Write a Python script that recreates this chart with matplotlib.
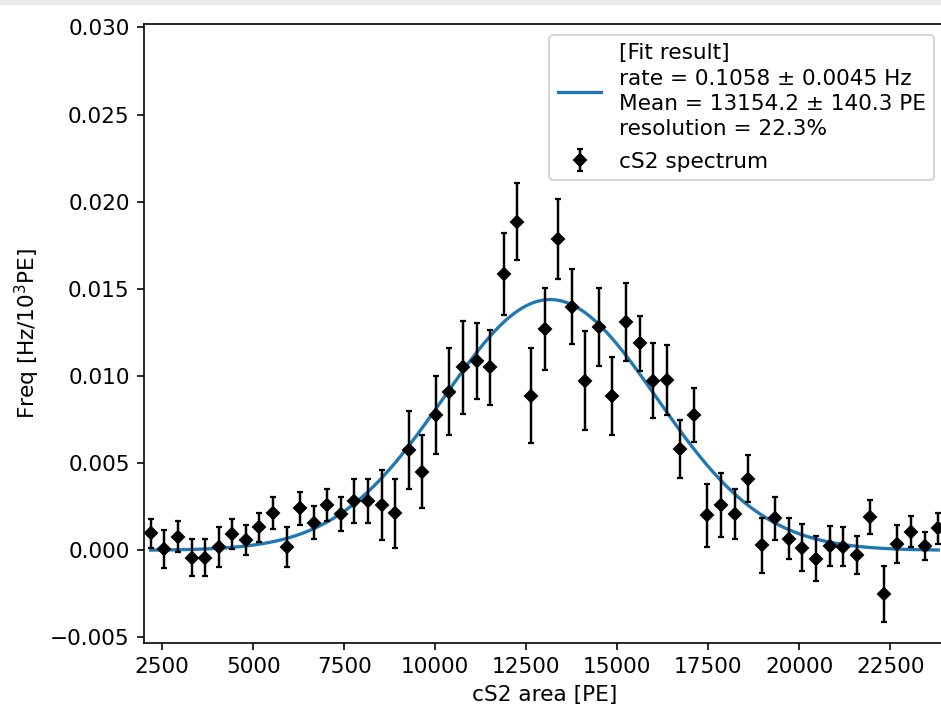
import numpy as np
import matplotlib
matplotlib.use("Agg")
import matplotlib.pyplot as plt
from matplotlib.patches import Rectangle

# ---- data ----
bin_edges = np.linspace(2000, 24000, 60)
bin_centers = 0.5 * (bin_edges[:-1] + bin_edges[1:])

freq = [0.00098, 0.00006, 0.00079, -0.00042, -0.00042, 0.00018, 0.00094, 0.00060,
        0.00132, 0.00213, 0.00021, 0.00241, 0.00159, 0.00260, 0.00207, 0.00283,
        0.00283, 0.00260, 0.00213, 0.00576, 0.00452, 0.00777, 0.00911, 0.01050,
        0.01089, 0.01050, 0.01587, 0.01886, 0.00886, 0.01272, 0.01785, 0.01398,
        0.00974, 0.01284, 0.00888, 0.01312, 0.01188, 0.00974, 0.00978, 0.00580,
        0.00777, 0.00201, 0.00260, 0.00209, 0.00410, 0.00029, 0.00184, 0.00067,
        0.00016, -0.00048, 0.00025, 0.00021, -0.00026, 0.00190, -0.00252, 0.00037,
        0.00107, 0.00027, 0.00127]

freq_err = [0.00083, 0.00110, 0.00087, 0.00105, 0.00105, 0.00114, 0.00086, 0.00085,
            0.00085, 0.00093, 0.00114, 0.00093, 0.00094, 0.00091, 0.00098, 0.00127,
            0.00127, 0.00200, 0.00198, 0.00226, 0.00207, 0.00222, 0.00250, 0.00268,
            0.00218, 0.00217, 0.00236, 0.00220, 0.00273, 0.00235, 0.00230, 0.00216,
            0.00284, 0.00224, 0.00224, 0.00224, 0.00159, 0.00214, 0.00200, 0.00165,
            0.00157, 0.00180, 0.00184, 0.00145, 0.00135, 0.00157, 0.00123, 0.00117,
            0.00134, 0.00130, 0.00113, 0.00113, 0.00110, 0.00096, 0.00162, 0.00110,
            0.00090, 0.00081, 0.00090]

# fit result (from legend)
fit_rate = 0.1058
fit_rate_err = 0.0045
fit_mean = 13154.2
fit_mean_err = 140.3
fit_resolution = 0.223

plt.rcParams["font.size"] = 10.6

# ---- figure ----
W, H, DPI = 941, 711, 147
fig = plt.figure(figsize=(W / DPI, H / DPI), dpi=DPI)
ax = fig.add_axes([144 / W, 1 - 642.7 / H, (945 - 144) / W, (642.7 - 24) / H])

sigma = fit_resolution * fit_mean
xx = np.linspace(bin_centers[0], bin_centers[-1], 600)
yy = fit_rate / (np.sqrt(2 * np.pi) * sigma / 1000.0) * np.exp(-0.5 * ((xx - fit_mean) / sigma) ** 2)

label_fit = ("[Fit result]\n"
             f"rate = {fit_rate:.4f} ± {fit_rate_err:.4f} Hz\n"
             f"Mean = {fit_mean:.1f} ± {fit_mean_err:.1f} PE\n"
             f"resolution = {fit_resolution*100:.1f}%")

ax.plot(xx, yy, color="#1f77b4", lw=1.6, label=label_fit, zorder=2)
ax.errorbar(bin_centers, freq, yerr=freq_err, fmt="D", color="k", ms=4.2,
            elinewidth=1.2, capsize=1.4, capthick=1.1, label="cS2 spectrum", zorder=3)

ax.set_xlim(2000, 24000)
ax.set_ylim(-0.0053, 0.0302)
ax.set_xticks([2500, 5000, 7500, 10000, 12500, 15000, 17500, 20000, 22500])
ax.set_yticks([-0.005, 0.0, 0.005, 0.010, 0.015, 0.020, 0.025, 0.030])
ax.set_xlabel("cS2 area [PE]")
ax.set_ylabel("Freq [Hz/10$^3$PE]")
leg = ax.legend(loc="upper right", labelspacing=0.6)
for t in leg.get_texts():
    t.set_linespacing(1.32)

# light grey strip at the top of the screenshot
fig.patches.append(Rectangle((0, 1 - 5 / H), 1, 5 / H, transform=fig.transFigure,
                             facecolor="#e9e9e9", edgecolor="none", zorder=0))

fig.savefig("out.png", dpi=DPI)
